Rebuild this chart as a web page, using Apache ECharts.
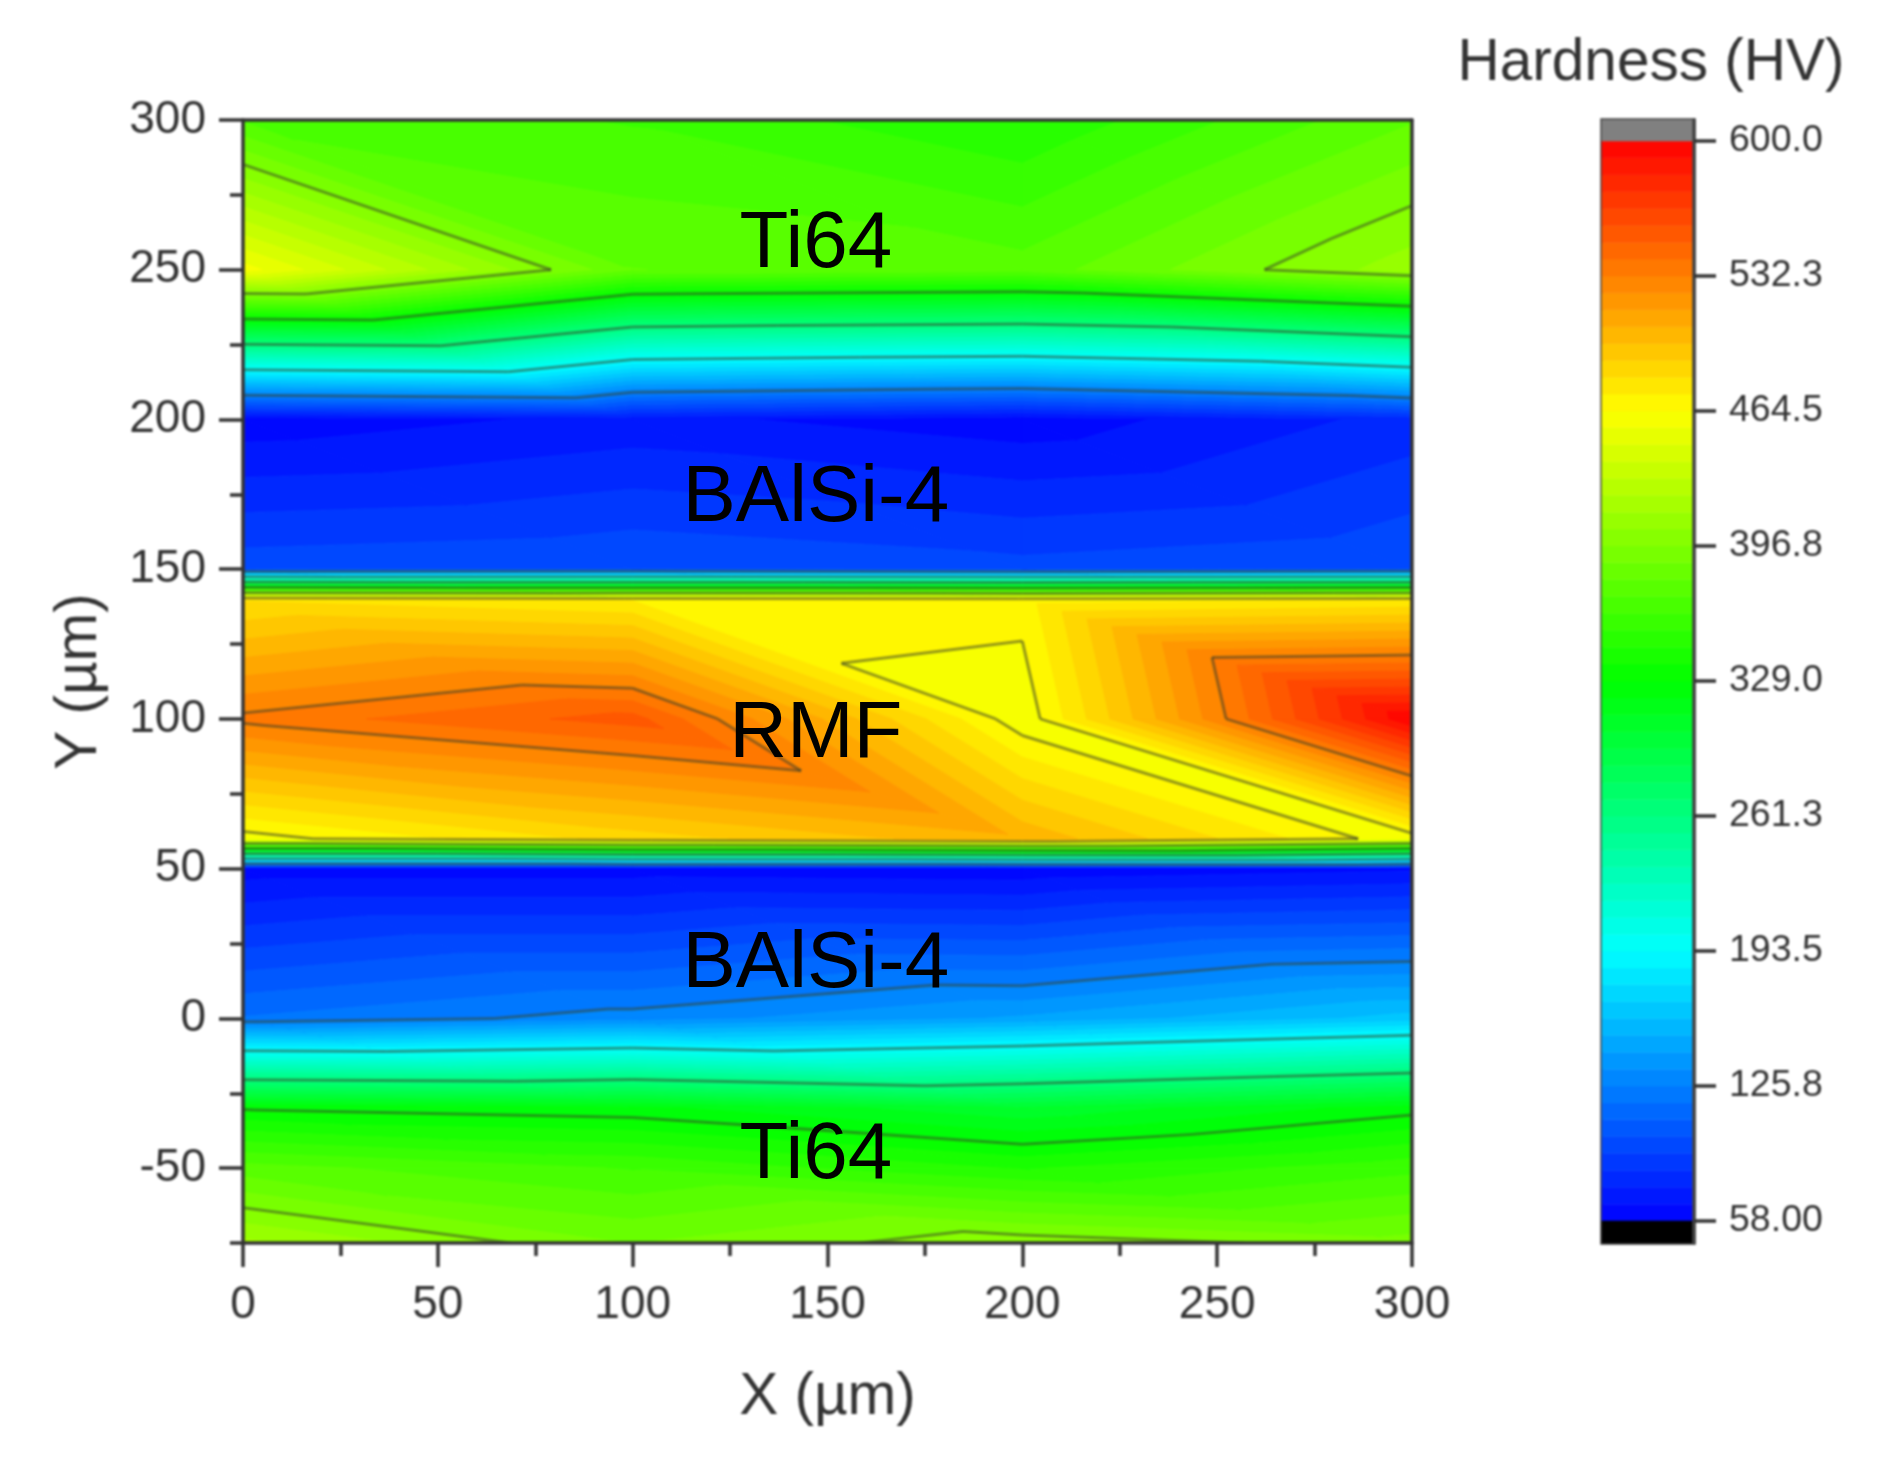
<!DOCTYPE html>
<html>
<head>
<meta charset="utf-8">
<style>html,body{margin:0;padding:0;background:#fff}#c{width:1877px;height:1459px}
#c canvas:first-child{filter:blur(1.2px)}</style>
<script src="https://cdn.jsdelivr.net/npm/echarts@6/dist/echarts.min.js"></script>
</head>
<body>
<div id="c"></div>
<script>
var xNodes = [0, 100, 200, 300];
var yNodes = [300, 250, 200, 150, 140, 100, 60, 50, 0, -30, -50, -75];
var hvY300 = [370, 362, 346, 379];
var hvY250 = [460, 380, 375, 410];
var hvY200 = [61, 69, 61, 78];
var hvY150 = [97, 100, 95, 100];
var hvY140 = [480, 472, 468, 473];
var hvY100 = [535, 553, 458, 600];
var hvY60 = [460, 485, 505, 458];
var hvY50 = [62, 62, 60, 65];
var hvY0 = [118, 130, 144, 163];
var hvYm30 = [328, 323, 305, 325];
var hvYm50 = [375, 362, 345, 360];
var hvYm75 = [416, 388, 403, 392];
var hvRows = [hvY300, hvY250, hvY200, hvY150, hvY140, hvY100, hvY60, hvY50, hvY0, hvYm30, hvYm50, hvYm75];

var colorTicks = [58, 125.75, 193.5, 261.25, 329, 396.75, 464.5, 532.25, 600];
var colorTickLabels = ['58.00', '125.8', '193.5', '261.3', '329.0', '396.8', '464.5', '532.3', '600.0'];
var bandsPerMajor = 8;
var yLabelTicks = [-50, 0, 50, 100, 150, 200, 250, 300];
var regionNames = ['Ti64', 'BAlSi-4', 'RMF', 'BAlSi-4', 'Ti64'];
var regionX = [147, 147, 147, 147, 147];
var regionY = [258.4, 173.4, 94.8, 18, -45.8];

var vMin = 58, vMax = 600;
var bandStep = (colorTicks[1] - colorTicks[0]) / bandsPerMajor;
var bandCount = Math.round((vMax - vMin) / bandStep);

function colorOf(v) {
  var t = (v - vMin) / (vMax - vMin) * 4, r, g, b;
  if (t < 1) { r = 0; g = t; b = 1; }
  else if (t < 2) { r = 0; g = 1; b = 2 - t; }
  else if (t < 3) { r = t - 2; g = 1; b = 0; }
  else { r = 1; g = 4 - t; b = 0; }
  return 'rgb(' + Math.round(r * 255) + ',' + Math.round(g * 255) + ',' + Math.round(b * 255) + ')';
}

// Triangular mesh: each cell is split along its top-left to bottom-right edge
var triangles = [];
for (var r = 0; r < yNodes.length - 1; r++) {
  for (var c = 0; c < xNodes.length - 1; c++) {
    var tl = [xNodes[c], yNodes[r], hvRows[r][c]];
    var tr = [xNodes[c + 1], yNodes[r], hvRows[r][c + 1]];
    var bl = [xNodes[c], yNodes[r + 1], hvRows[r + 1][c]];
    var br = [xNodes[c + 1], yNodes[r + 1], hvRows[r + 1][c + 1]];
    triangles.push(tl.concat(bl, br));
    triangles.push(tl.concat(tr, br));
  }
}

function clipAbove(poly, lim, keepAbove) {
  var out = [];
  for (var i = 0; i < poly.length; i++) {
    var a = poly[i], b = poly[(i + 1) % poly.length];
    var ina = keepAbove ? a[2] >= lim : a[2] <= lim;
    var inb = keepAbove ? b[2] >= lim : b[2] <= lim;
    if (ina) out.push(a);
    if (ina !== inb) {
      var t = (lim - a[2]) / (b[2] - a[2]);
      out.push([a[0] + t * (b[0] - a[0]), a[1] + t * (b[1] - a[1]), lim]);
    }
  }
  return out;
}

function renderTriangle(params, api) {
  var pts = [
    [api.value(0), api.value(1), api.value(2)],
    [api.value(3), api.value(4), api.value(5)],
    [api.value(6), api.value(7), api.value(8)]
  ];
  var children = [];
  for (var k = 0; k < bandCount; k++) {
    var lo = vMin + k * bandStep, hi = lo + bandStep;
    var poly = clipAbove(pts, lo, true);
    if (poly.length) poly = clipAbove(poly, hi, false);
    if (poly.length < 3) continue;
    var col = colorOf(lo + bandStep / 2);
    children.push({
      type: 'polygon',
      shape: { points: poly.map(function (p) { return api.coord([p[0], p[1]]); }) },
      style: { fill: col, stroke: col, lineWidth: 1 }
    });
  }
  colorTicks.forEach(function (lev) {
    var seg = [];
    for (var i = 0; i < 3; i++) {
      var a = pts[i], b = pts[(i + 1) % 3];
      if ((a[2] < lev) !== (b[2] < lev)) {
        var t = (lev - a[2]) / (b[2] - a[2]);
        seg.push(api.coord([a[0] + t * (b[0] - a[0]), a[1] + t * (b[1] - a[1])]));
      }
    }
    if (seg.length === 2) {
      children.push({
        type: 'line',
        z2: 10,
        shape: { x1: seg[0][0], y1: seg[0][1], x2: seg[1][0], y2: seg[1][1] },
        style: { stroke: 'rgba(55,65,40,0.52)', lineWidth: 3, lineCap: 'butt' }
      });
    }
  });
  return { type: 'group', children: children };
}

// Colour scale cells
var scaleCells = [];
for (var k = 0; k < bandCount; k++) {
  var lo = vMin + k * bandStep;
  scaleCells.push([lo, lo + bandStep, colorOf(lo + bandStep / 2)]);
}
var scaleBottom = 47, scaleTop = 610.5;
scaleCells.push([scaleBottom, vMin, '#000000']);
scaleCells.push([vMax, scaleTop, '#808080']);

function renderScaleCell(params, api) {
  var p0 = api.coord([0, api.value(0)]);
  var p1 = api.coord([1, api.value(1)]);
  var col = scaleCells[params.dataIndex][2];
  return {
    type: 'rect',
    shape: { x: p0[0], y: p1[1], width: p1[0] - p0[0], height: p0[1] - p1[1] },
    style: { fill: col, stroke: col, lineWidth: 0.6 }
  };
}

var font = '"Liberation Sans", Arial, sans-serif';
var ink = '#333333';
var regionData = regionNames.map(function (n, i) { return [regionX[i], regionY[i], n]; });

var chart = echarts.init(document.getElementById('c'), null, { renderer: 'canvas' });
chart.setOption({
  animation: false,
  backgroundColor: '#ffffff',
  textStyle: { fontFamily: font },
  title: {
    text: 'Hardness (HV)', left: 1646, top: 29, textAlign: 'center',
    textStyle: { fontFamily: font, fontSize: 58.5, fontWeight: 'normal', color: ink }
  },
  grid: [
    { left: 243, top: 120, width: 1169, height: 1123 },
    { left: 1602, top: 120, width: 92, height: 1123, show: true, borderColor: '#444444', borderWidth: 3.5, backgroundColor: 'transparent' }
  ],
  xAxis: [
    {
      type: 'value', gridIndex: 0, min: 0, max: 300, interval: 50, position: 'bottom', z: 5,
      name: 'X (\u00b5m)', nameLocation: 'middle', nameGap: 125,
      nameTextStyle: { fontFamily: font, fontSize: 58.5, color: ink },
      axisLine: { show: true, onZero: false, lineStyle: { color: ink, width: 3.5 } },
      axisTick: { show: true, length: 24, lineStyle: { color: ink, width: 3.5 } },
      minorTick: { show: true, splitNumber: 2, length: 13, lineStyle: { color: ink, width: 3.5 } },
      splitLine: { show: false }, minorSplitLine: { show: false },
      axisLabel: { fontFamily: font, fontSize: 46, color: ink, margin: 39, showMinLabel: true, showMaxLabel: true, hideOverlap: false }
    },
    {
      type: 'value', gridIndex: 0, min: 0, max: 300, position: 'top', z: 5,
      axisLine: { show: true, onZero: false, lineStyle: { color: ink, width: 3.5 } },
      axisTick: { show: false }, axisLabel: { show: false }, splitLine: { show: false }
    },
    {
      type: 'value', gridIndex: 1, min: 0, max: 1, show: false
    }
  ],
  yAxis: [
    {
      type: 'value', gridIndex: 0, min: -75, max: 300, interval: 25, position: 'left', z: 5,
      axisLine: { show: true, onZero: false, lineStyle: { color: ink, width: 3.5 } },
      axisTick: { show: true, length: 13, lineStyle: { color: ink, width: 3.5 } },
      axisLabel: { show: false }, splitLine: { show: false }
    },
    {
      type: 'value', gridIndex: 0, min: -75, max: 300, position: 'left', z: 5,
      name: 'Y (\u00b5m)', nameLocation: 'middle', nameRotate: 90, nameGap: 134,
      nameTextStyle: { fontFamily: font, fontSize: 58.5, color: ink },
      axisLine: { show: false, onZero: false },
      axisTick: { show: true, length: 24, customValues: yLabelTicks, lineStyle: { color: ink, width: 3.5 } },
      axisLabel: { fontFamily: font, fontSize: 46, color: ink, margin: 37, customValues: yLabelTicks, padding: [7, 0, 0, 0] },
      splitLine: { show: false }
    },
    {
      type: 'value', gridIndex: 0, min: -75, max: 300, position: 'right', z: 5,
      axisLine: { show: true, onZero: false, lineStyle: { color: ink, width: 3.5 } },
      axisTick: { show: false }, axisLabel: { show: false }, splitLine: { show: false }
    },
    {
      type: 'value', gridIndex: 1, min: scaleBottom, max: scaleTop, position: 'right', z: 5,
      axisLine: { show: true, onZero: false, lineStyle: { color: '#444444', width: 3.5 } },
      axisTick: { show: true, length: 22, customValues: colorTicks, lineStyle: { color: ink, width: 3.5 } },
      axisLabel: {
        fontFamily: font, fontSize: 37.5, color: ink, margin: 35, customValues: colorTicks, padding: [9, 0, 0, 0],
        formatter: function (v) {
          var i = colorTicks.indexOf(v);
          return i >= 0 ? colorTickLabels[i] : '';
        }
      },
      splitLine: { show: false }
    }
  ],
  series: [
    {
      type: 'custom', name: 'Hardness map', xAxisIndex: 0, yAxisIndex: 0, silent: true, z: 2,
      encode: { x: [0, 3, 6], y: [1, 4, 7] },
      clip: true, renderItem: renderTriangle, data: triangles
    },
    {
      type: 'custom', name: 'Colour scale', xAxisIndex: 2, yAxisIndex: 3, silent: true, z: 2,
      encode: { y: [0, 1] }, renderItem: renderScaleCell,
      data: scaleCells.map(function (c) { return [c[0], c[1]]; })
    },
    {
      type: 'custom', name: 'Regions', xAxisIndex: 0, yAxisIndex: 0, silent: true, z: 6, zlevel: 1,
      encode: { x: 0, y: 1 },
      renderItem: function (params, api) {
        var p = api.coord([api.value(0), api.value(1)]);
        return {
          type: 'text',
          style: {
            x: p[0], y: p[1], text: regionNames[params.dataIndex],
            font: '80px ' + font, fill: '#000000', textAlign: 'center', textVerticalAlign: 'middle'
          }
        };
      },
      data: regionData.map(function (d) { return [d[0], d[1]]; })
    }
  ]
});
</script>
</body>
</html>
